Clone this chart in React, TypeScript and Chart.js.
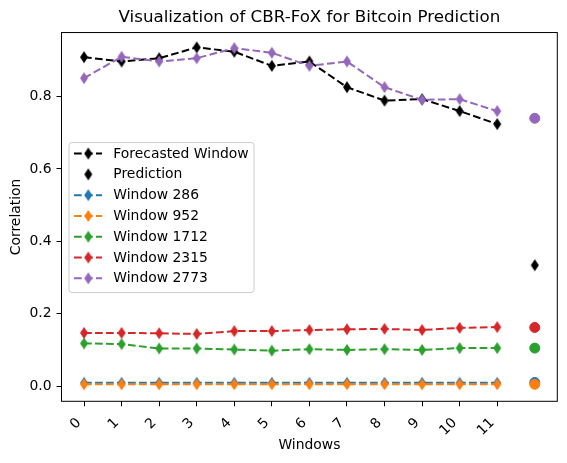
import React, { useEffect, useRef } from 'react';
import { Chart, registerables } from 'chart.js';
Chart.register(...registerables);

const WINDOW_POS = [0, 1, 2, 3, 4, 5, 6, 7, 8, 9, 10, 11];
const X_TICKS = [0, 1, 2, 3, 4, 5, 6, 7, 8, 9, 10, 11];
const Y_TICKS = [0, 0.2, 0.4, 0.6, 0.8];
const PRED_POS = 12;

const FORECASTED = [0.909, 0.897, 0.906, 0.936, 0.924, 0.885, 0.897, 0.826, 0.789, 0.793, 0.76, 0.724];
const PREDICTION = 0.334;

const W286 = [0.009, 0.009, 0.009, 0.009, 0.009, 0.009, 0.009, 0.009, 0.009, 0.009, 0.009, 0.009];
const W952 = [0.005, 0.005, 0.005, 0.005, 0.005, 0.005, 0.005, 0.005, 0.005, 0.005, 0.005, 0.005];
const W1712 = [0.118, 0.116, 0.104, 0.104, 0.101, 0.098, 0.102, 0.1, 0.102, 0.1, 0.105, 0.105];
const W2315 = [0.147, 0.147, 0.146, 0.144, 0.152, 0.152, 0.155, 0.157, 0.158, 0.155, 0.161, 0.163];
const W2773 = [0.851, 0.91, 0.897, 0.906, 0.934, 0.921, 0.885, 0.897, 0.826, 0.791, 0.793, 0.76];

const WINDOW_NAMES = ['Window 286', 'Window 952', 'Window 1712', 'Window 2315', 'Window 2773'];
const WINDOW_VALUES = [W286, W952, W1712, W2315, W2773];
const WINDOW_PREDS = [0.01, 0.005, 0.105, 0.162, 0.74];
const WINDOW_COLORS = ['#1f77b4', '#ff7f0e', '#2ca02c', '#d62728', '#9467bd'];

const TITLE = 'Visualization of CBR-FoX for Bitcoin Prediction';
const FONT = 'DejaVu Sans';
const DASH = [7.7, 3.3];

function thinDiamond(color: string): HTMLCanvasElement {
  const c = document.createElement('canvas');
  c.width = 10;
  c.height = 14;
  const g = c.getContext('2d')!;
  g.fillStyle = color;
  g.beginPath();
  g.moveTo(5, 1);
  g.lineTo(9, 7);
  g.lineTo(5, 13);
  g.lineTo(1, 7);
  g.closePath();
  g.fill();
  return c;
}

export default function App() {
  const ref = useRef<HTMLCanvasElement | null>(null);

  useEffect(() => {
    const canvas = ref.current!;
    const datasets: any[] = [];
    const legendItems: { label: string; color: string; line: boolean }[] = [];

    datasets.push({
      label: 'Forecasted Window',
      data: WINDOW_POS.map((x, i) => ({ x, y: FORECASTED[i] })),
      borderColor: '#000',
      backgroundColor: '#000',
      borderWidth: 2,
      borderDash: DASH,
      pointStyle: thinDiamond('#000'),
      pointRadius: 6,
      showLine: true,
      fill: false,
      tension: 0,
    });
    legendItems.push({ label: 'Forecasted Window', color: '#000', line: true });

    datasets.push({
      label: 'Prediction',
      data: [{ x: PRED_POS, y: PREDICTION }],
      borderColor: '#000',
      backgroundColor: '#000',
      pointStyle: thinDiamond('#000'),
      pointRadius: 6,
      showLine: false,
    });
    legendItems.push({ label: 'Prediction', color: '#000', line: false });

    WINDOW_NAMES.forEach((name, k) => {
      const color = WINDOW_COLORS[k];
      datasets.push({
        label: name,
        data: WINDOW_POS.map((x, i) => ({ x, y: WINDOW_VALUES[k][i] })),
        borderColor: color,
        backgroundColor: color,
        borderWidth: 2,
        borderDash: DASH,
        pointStyle: thinDiamond(color),
        pointRadius: 6,
        showLine: true,
        fill: false,
        tension: 0,
      });
      datasets.push({
        label: name + ' prediction',
        data: [{ x: PRED_POS, y: WINDOW_PREDS[k] }],
        borderColor: color,
        backgroundColor: color,
        borderWidth: 1,
        pointStyle: 'circle',
        pointRadius: 5,
        showLine: false,
      });
      legendItems.push({ label: name, color, line: true });
    });

    const n = datasets.length;
    datasets.forEach((d, i) => (d.order = n - i));

    const framePlugin = {
      id: 'frameAndLegend',
      afterDatasetsDraw(chart: any) {
        const { ctx, chartArea } = chart;
        ctx.save();
        ctx.strokeStyle = '#000';
        ctx.lineWidth = 1;
        ctx.strokeRect(chartArea.left, chartArea.top, chartArea.right - chartArea.left, chartArea.bottom - chartArea.top);

        // title centred over the plot area
        ctx.font = `16.7px "${FONT}"`;
        ctx.fillStyle = '#000';
        ctx.textAlign = 'center';
        ctx.textBaseline = 'middle';
        ctx.fillText(TITLE, (chartArea.left + chartArea.right) / 2, 18);

        // legend
        const bx = chartArea.left + 7.5;
        const by = chartArea.top + 110;
        const bw = 185;
        const bh = 150;
        const r = 3;
        ctx.beginPath();
        ctx.moveTo(bx + r, by);
        ctx.lineTo(bx + bw - r, by);
        ctx.arcTo(bx + bw, by, bx + bw, by + r, r);
        ctx.lineTo(bx + bw, by + bh - r);
        ctx.arcTo(bx + bw, by + bh, bx + bw - r, by + bh, r);
        ctx.lineTo(bx + r, by + bh);
        ctx.arcTo(bx, by + bh, bx, by + bh - r, r);
        ctx.lineTo(bx, by + r);
        ctx.arcTo(bx, by, bx + r, by, r);
        ctx.closePath();
        ctx.fillStyle = 'rgba(255,255,255,0.8)';
        ctx.fill();
        ctx.strokeStyle = '#cccccc';
        ctx.lineWidth = 1;
        ctx.stroke();

        ctx.font = `13.9px "${FONT}"`;
        ctx.textBaseline = 'middle';
        ctx.textAlign = 'left';
        legendItems.forEach((it, i) => {
          const cy = by + 11 + i * 20.8;
          if (it.line) {
            ctx.save();
            ctx.beginPath();
            ctx.rect(bx + 5, cy - 3, 28, 6);
            ctx.clip();
            ctx.strokeStyle = it.color;
            ctx.lineWidth = 2;
            ctx.setLineDash(DASH);
            ctx.beginPath();
            ctx.moveTo(bx + 5, cy);
            ctx.lineTo(bx + 33, cy);
            ctx.stroke();
            ctx.restore();
          }
          const img = thinDiamond(it.color);
          ctx.drawImage(img, bx + 19.3 - img.width / 2, cy - img.height / 2);
          ctx.fillStyle = '#000';
          ctx.fillText(it.label, bx + 44.3, cy + 0.5);
        });
        ctx.restore();
      },
    };

    const chart = new Chart(canvas, {
      type: 'line',
      data: { datasets },
      options: {
        animation: false,
        responsive: false,
        devicePixelRatio: 1,
        layout: { padding: { left: 0, right: 9.7, top: 0, bottom: 0 } },
        plugins: {
          legend: { display: false },
          tooltip: { enabled: false },
          title: {
            display: true,
            text: TITLE,
            color: 'rgba(0,0,0,0)',
            font: { family: FONT, size: 16.7, weight: 'normal' },
            padding: { top: 8, bottom: 4.5 },
          },
        },
        scales: {
          x: {
            type: 'linear',
            min: -0.6,
            max: 12.6,
            afterBuildTicks: (axis: any) => {
              axis.ticks = X_TICKS.map((v) => ({ value: v }));
            },
            afterFit: (axis: any) => {
              axis.height = 61.7;
            },
            ticks: {
              color: '#000',
              font: { family: FONT, size: 13.9 },
              minRotation: 45,
              maxRotation: 45,
              autoSkip: false,
              padding: 8.6,
              labelOffset: -5,
              callback: (v: any) => String(v),
            },
            grid: { drawOnChartArea: false, drawTicks: true, tickLength: 5, tickColor: '#000', color: '#000' },
            border: { display: false },
            title: {
              display: true,
              text: 'Windows',
              color: '#000',
              font: { family: FONT, size: 13.9 },
              padding: { top: 0, bottom: 9.65 },
            },
          },
          y: {
            type: 'linear',
            min: -0.042,
            max: 0.977,
            afterBuildTicks: (axis: any) => {
              axis.ticks = Y_TICKS.map((v) => ({ value: v }));
            },
            afterFit: (axis: any) => {
              axis.width = 61.5;
            },
            ticks: {
              color: '#000',
              font: { family: FONT, size: 13.9 },
              padding: 5,
              callback: (v: any) => Number(v).toFixed(1),
            },
            grid: { drawOnChartArea: false, drawTicks: true, tickLength: 5, tickColor: '#000', color: '#000' },
            border: { display: false },
            title: {
              display: true,
              text: 'Correlation',
              color: '#000',
              font: { family: FONT, size: 13.9 },
              padding: { top: 7.65, bottom: 0 },
            },
          },
        },
      } as any,
      plugins: [framePlugin],
    });
    return () => chart.destroy();
  }, []);

  return (
    <div style={{ position: 'absolute', left: 0, top: 0, width: 567, height: 463, background: '#fff' }}>
      <canvas ref={ref} width={567} height={463} />
    </div>
  );
}
